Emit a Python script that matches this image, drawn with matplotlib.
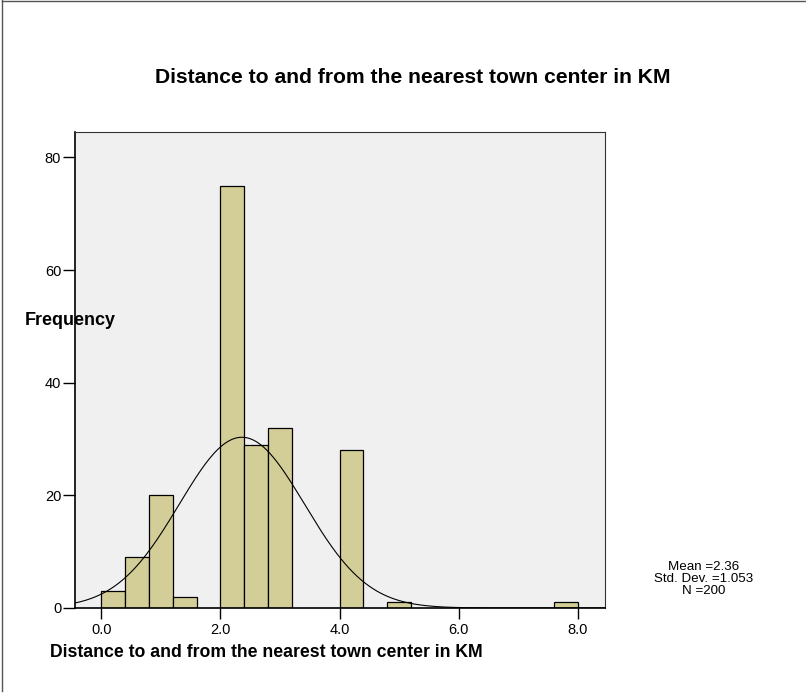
import numpy as np
import matplotlib.pyplot as plt
from matplotlib.lines import Line2D

# histogram bins (left edge, km) and counts, width 0.4
bin_left = [0.0, 0.4, 0.8, 1.2, 2.0, 2.4, 2.8, 4.0, 4.8, 7.6]
counts = [3, 9, 20, 2, 75, 29, 32, 28, 1, 1]
bin_width = 0.4

mean = 2.36
std_dev = 1.053
n_total = 200

x_ticks = [0.0, 2.0, 4.0, 6.0, 8.0]
y_ticks = [0, 20, 40, 60, 80]

title = "Distance to and from the nearest town center in KM"

plt.rcParams["font.family"] = ["Liberation Sans", "DejaVu Sans"]

fig = plt.figure(figsize=(8.06, 6.93), dpi=100)
ax = fig.add_axes([0.0931, 0.1227, 0.6581, 0.6868])
ax.set_facecolor("#f0f0f0")

ax.bar(bin_left, counts, width=bin_width, align="edge",
       color="#d3ce97", edgecolor="black", linewidth=0.9, zorder=2)

# normal curve scaled to the histogram
xs = np.linspace(-0.44, 8.46, 400)
ys = n_total * bin_width / (std_dev * np.sqrt(2 * np.pi)) * np.exp(-0.5 * ((xs - mean) / std_dev) ** 2)
ax.plot(xs, ys, color="black", linewidth=0.8, zorder=3)

ax.set_xlim(-0.44, 8.46)
ax.set_ylim(0, 84.5)
ax.set_xticks(x_ticks)
ax.set_xticklabels([f"{v:.1f}" for v in x_ticks])
ax.set_yticks(y_ticks)
ax.tick_params(axis="x", labelsize=10.5, length=8, width=1, direction="out", pad=3)
ax.tick_params(axis="y", labelsize=10.5, length=9, width=1, direction="out", pad=1)

for side in ["top", "right"]:
    ax.spines[side].set_color("#333333")
    ax.spines[side].set_linewidth(0.8)
for side in ["left", "bottom"]:
    ax.spines[side].set_linewidth(1.2)

fig.text(0.512, 0.888, title, ha="center", va="center", fontsize=15.2, fontweight="bold")
# x label sits left of the axes centre in the original
fig.text(0.330, 0.059, title, ha="center", va="center", fontsize=12.7, fontweight="bold")
fig.text(0.031, 0.538, "Frequency", ha="left", va="center", fontsize=13, fontweight="bold")

fig.text(0.873, 0.165,
         f"Mean ={mean:.2f}\nStd. Dev. =1.053\nN ={n_total}",
         ha="center", va="center", fontsize=9.6, linespacing=1.0)

# partial outer frame (top and left)
fig.add_artist(Line2D([0.003, 0.003], [0.0035, 1.0], color="#555555", linewidth=1.0))
fig.add_artist(Line2D([0.003, 1.0], [0.999, 0.999], color="#555555", linewidth=1.0))

fig.savefig("out.png", dpi=100)
